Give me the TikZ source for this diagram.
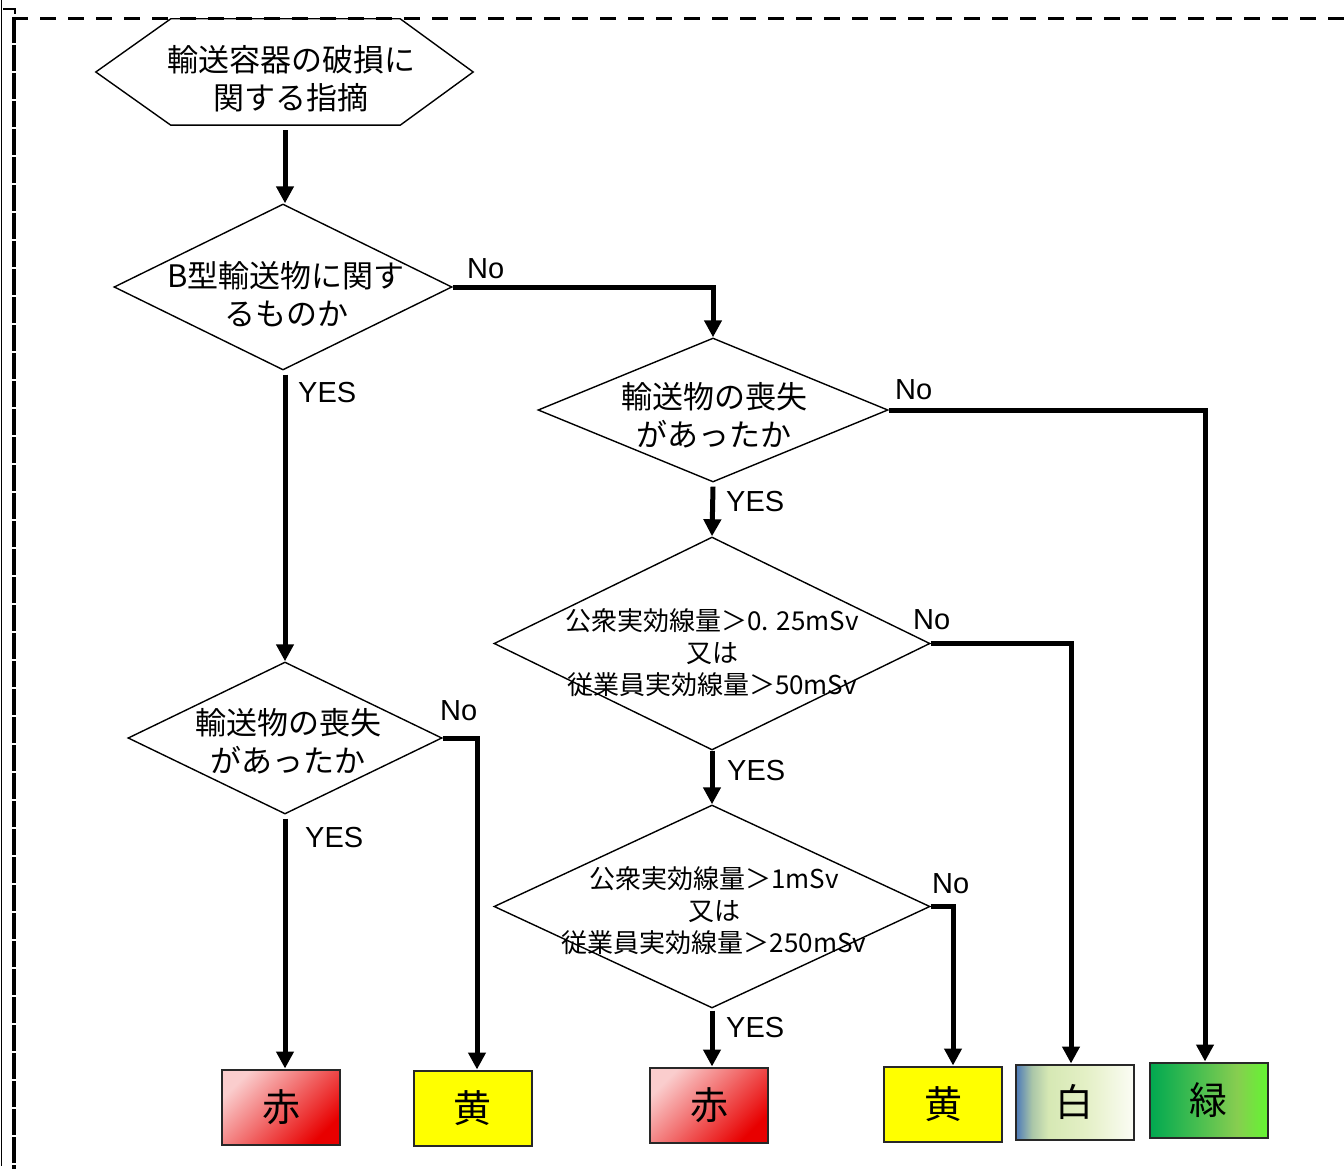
\documentclass[tikz,border=0pt]{standalone}
\usepackage{fontspec}
\setmainfont{Noto Sans CJK JP}
\newfontfamily\latinfont{Liberation Sans}
\usetikzlibrary{shapes.geometric,arrows.meta}
\definecolor{redlt}{RGB}{250,205,205}
\definecolor{reddk}{RGB}{232,0,0}
\definecolor{yel}{RGB}{255,255,0}
\definecolor{wbA}{RGB}{74,120,184}
\definecolor{wbB}{RGB}{170,198,168}
\definecolor{wbC}{RGB}{214,232,180}
\definecolor{wbD}{RGB}{228,240,198}
\definecolor{wbE}{RGB}{251,252,244}
\definecolor{gA}{RGB}{0,168,80}
\definecolor{gB}{RGB}{70,190,80}
\definecolor{gC}{RGB}{135,205,80}
\definecolor{gD}{RGB}{100,245,50}
\definecolor{boxline}{RGB}{40,40,40}
\pgfdeclarehorizontalshading{whiteshade}{100bp}{color(0bp)=(wbA); color(25bp)=(wbA); color(32bp)=(wbB); color(39bp)=(wbC); color(55bp)=(wbD); color(75bp)=(wbE); color(100bp)=(wbE)}
\pgfdeclarehorizontalshading{greenshade}{100bp}{color(0bp)=(gA); color(25bp)=(gA); color(45bp)=(gB); color(62bp)=(gC); color(75bp)=(gD); color(100bp)=(gD)}
\tikzset{
  shapeline/.style={draw=black, line width=1.4pt},
  dia/.style={shape=diamond, shapeline, inner sep=0pt},
  txt/.style={inner sep=0pt, align=center, font=\fontsize{31}{38}\selectfont},
  smalltxt/.style={inner sep=0pt, align=center, font=\fontsize{26}{32}\selectfont},
  lbl/.style={inner sep=0pt, anchor=west, font=\latinfont\fontsize{29}{34}\selectfont},
  arr/.style={line width=5pt, -{Triangle[length=17pt,width=17pt]}},
  result/.style={draw=boxline, line width=2pt, minimum width=118pt, minimum height=75pt, inner sep=0pt, font=\fontsize{38}{42}\selectfont},
  redbox/.style={result, shading=axis, top color=redlt, bottom color=reddk, shading angle=45},
  yelbox/.style={result, fill=yel},
  whitebox/.style={result, shading=whiteshade, shading angle=0},
  greenbox/.style={result, shading=greenshade, shading angle=0},
}
\begin{document}
\begin{tikzpicture}[x=1pt,y=-1pt]
\useasboundingbox (0,0) rectangle (1344,1169);
% frame
\draw[line width=1.2pt] (1.5,0) -- (1.5,1166);
\draw[line width=2pt] (3,9.5) -- (15,9.5) -- (15,14);
\draw[line width=3.5pt, dash pattern=on 26pt off 2pt] (14,17) -- (14,1169);
\draw[line width=3pt, dash pattern=on 16pt off 12pt] (12,18.5) -- (1344,18.5);

% hexagon
\node[minimum width=377pt, minimum height=106pt, inner sep=0pt] (hex) at (284.5,72) {};
\draw[shapeline] (hex.west) -- ([xshift=75pt]hex.north west) -- ([xshift=-73pt]hex.north east) -- (hex.east) -- ([xshift=-73pt]hex.south east) -- ([xshift=75pt]hex.south west) -- cycle;
\node[txt] (hext) at (291,79) {輸送容器の破損に\\関する指摘};

% diamonds
\node[dia, minimum width=338pt, minimum height=166pt] (d1) at (283,287) {};
\node[txt] (d1t) at (286,294) {B型輸送物に関す\\るものか};
\node[dia, minimum width=350pt, minimum height=144pt] (d2) at (713,410) {};
\node[txt] (d2t) at (714,415) {輸送物の喪失\\があったか};
\node[dia, minimum width=314pt, minimum height=152pt] (d5) at (285,738) {};
\node[txt] (d5t) at (288,741) {輸送物の喪失\\があったか};
\node[dia, minimum width=436pt, minimum height=213pt] (d3) at (712,643.5) {};
\node[smalltxt] (d3t) at (712,653) {公衆実効線量＞0. 25mSv\\又は\\従業員実効線量＞50mSv};
\node[dia, minimum width=436pt, minimum height=203pt] (d4) at (712,906.5) {};
\node[smalltxt] (d4t) at (714,911) {公衆実効線量＞1mSv\\又は\\従業員実効線量＞250mSv};

% result boxes
\node[redbox] (r1) at (281,1107) {赤};
\node[yelbox] (y1) at (472.5,1108) {黄};
\node[redbox] (r2) at (709,1105) {赤};
\node[yelbox] (y2) at (943,1104) {黄};
\node[whitebox] (w) at (1074.5,1102) {白};
\node[greenbox] (g) at (1208.5,1100) {緑};

% connectors
\draw[arr] ([yshift=-5pt]hex.south -| d5.north) -- (d1.north -| d5.north);
\draw[arr] (d1.east) -| (d2.north);
\draw[arr] ([yshift=-4pt]d1.south -| d5.north) -- (d5.north);
\draw[arr] (d2.east) -| ([xshift=-3.5pt]g.north);
\draw[arr] ([yshift=-4pt]d2.south) -- (d3.north);
\draw[arr] (d3.east) -| ([xshift=-3.5pt]w.north);
\draw[arr] (d3.south) -- (d4.north);
\draw[arr] (d4.east) -| ([xshift=10pt]y2.north);
\draw[arr] ([yshift=-2pt]d4.south) -- (d4.south |- r2.north);
\draw[arr] (d5.east) -| ([xshift=4.5pt]y1.north);
\draw[arr] ([yshift=-4pt]d5.south) -- (d5.south |- r1.north);

% labels
\node[lbl] (no1) at (467,269) {No};
\node[lbl] (yes1) at (298,393) {YES};
\node[lbl] (no2) at (895,390) {No};
\node[lbl] (yes2) at (726,502) {YES};
\node[lbl] (no3) at (913,620) {No};
\node[lbl] (yes3) at (727,771) {YES};
\node[lbl] (no4) at (932,884) {No};
\node[lbl] (yes4) at (726,1028) {YES};
\node[lbl] (no5) at (440,711) {No};
\node[lbl] (yes5) at (305,838) {YES};
\end{tikzpicture}
\end{document}
